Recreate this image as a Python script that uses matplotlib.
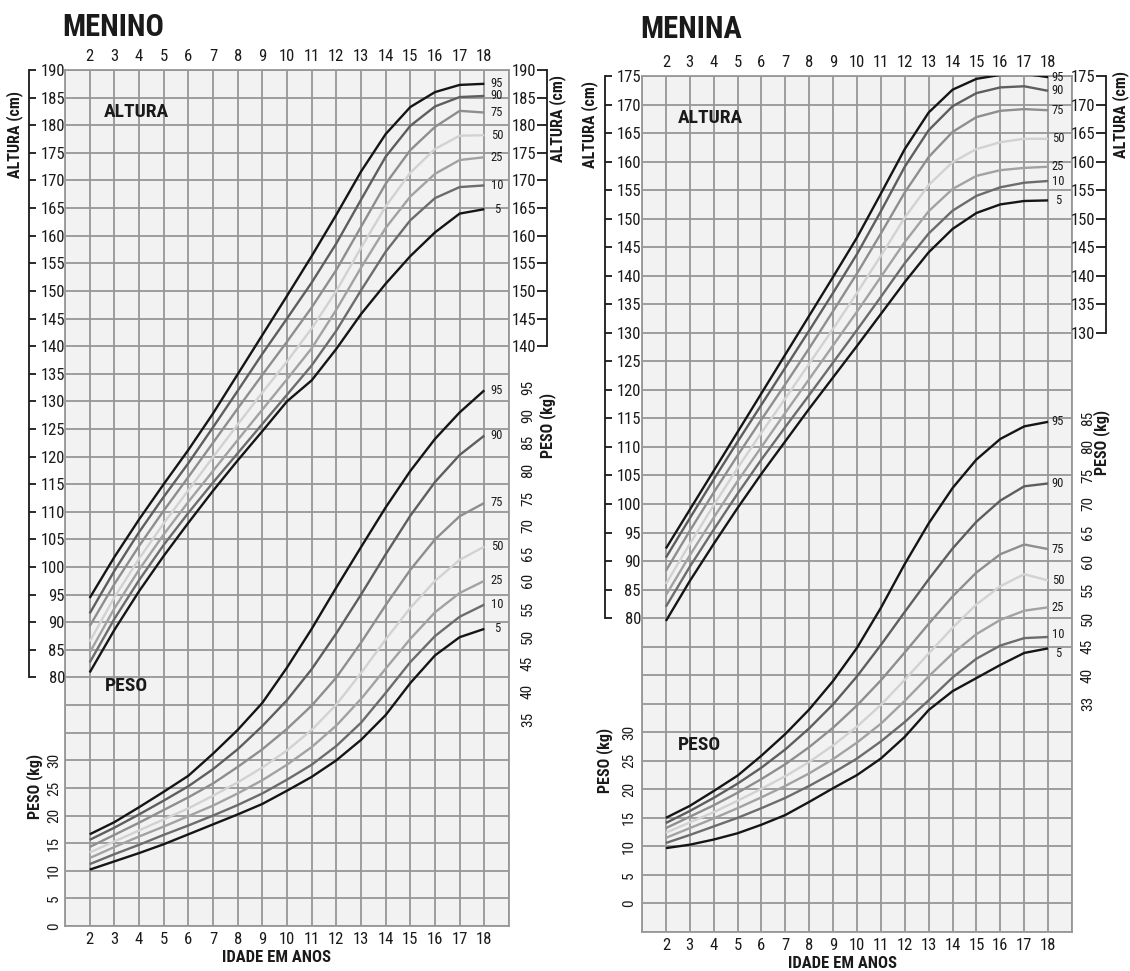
import numpy as np
import matplotlib
matplotlib.use('Agg')
import matplotlib.pyplot as plt

plt.rcParams['font.family'] = ['Roboto Condensed', 'Liberation Sans Narrow', 'Liberation Sans', 'DejaVu Sans']

# ---------------- data ----------------
ages = [2, 3, 4, 5, 6, 7, 8, 9, 10, 11, 12, 13, 14, 15, 16, 17, 18]
percentiles = ['95', '90', '75', '50', '25', '10', '5']

# MENINO - altura (cm)
boys_height_p95 = [94.4, 101.8, 108.6, 115.0, 121.2, 127.8, 134.9, 142.0, 149.1, 156.3, 163.8, 171.6, 178.4, 183.3, 186.0, 187.3, 187.5]
boys_height_p90 = [91.6, 99.3, 106.3, 112.7, 118.8, 125.3, 131.9, 138.6, 145.0, 151.5, 158.6, 166.5, 174.3, 179.9, 183.4, 185.1, 185.3]
boys_height_p75 = [89.3, 96.9, 103.8, 110.2, 116.3, 122.5, 128.7, 134.8, 140.8, 147.0, 153.8, 161.6, 169.4, 175.5, 179.7, 182.6, 182.3]
boys_height_p50 = [86.5, 94.5, 101.5, 107.9, 113.9, 119.9, 125.8, 131.6, 137.2, 143.2, 150.0, 157.8, 165.3, 171.4, 175.7, 178.1, 178.2]
boys_height_p25 = [84.5, 92.5, 99.5, 105.9, 111.8, 117.4, 123.0, 128.5, 134.0, 139.6, 146.6, 154.2, 161.4, 167.1, 171.2, 173.7, 174.2]
boys_height_p10 = [82.7, 90.6, 97.6, 104.0, 109.8, 115.3, 120.6, 125.9, 131.2, 136.5, 142.8, 150.1, 157.1, 162.8, 166.8, 168.8, 169.1]
boys_height_p5 = [80.9, 88.6, 95.6, 102.0, 108.0, 113.8, 119.3, 124.6, 130.0, 133.8, 139.5, 145.8, 151.3, 156.3, 160.6, 164.0, 164.8]

# MENINO - peso (kg)
boys_weight_p95 = [16.6, 18.8, 21.5, 24.3, 27.2, 31.2, 35.5, 40.4, 46.8, 53.8, 61.3, 68.6, 75.8, 82.4, 88.2, 93.0, 97.0]
boys_weight_p90 = [15.6, 17.8, 20.2, 22.7, 25.3, 28.4, 32.0, 36.2, 40.9, 46.5, 53.0, 60.0, 67.3, 74.3, 80.4, 85.3, 88.8]
boys_weight_p75 = [14.3, 16.5, 18.7, 21.0, 23.3, 25.8, 28.8, 32.0, 35.7, 39.9, 45.0, 51.3, 58.1, 64.5, 70.0, 74.2, 76.6]
boys_weight_p50 = [13.3, 15.3, 17.3, 19.3, 21.3, 23.6, 26.0, 28.7, 31.8, 35.5, 40.1, 45.8, 51.9, 57.6, 62.5, 66.3, 68.7]
boys_weight_p25 = [12.3, 14.3, 16.2, 18.0, 19.9, 21.8, 24.0, 26.4, 29.2, 32.4, 36.3, 41.1, 46.6, 52.0, 56.8, 60.3, 62.5]
boys_weight_p10 = [11.2, 13.0, 14.7, 16.5, 18.2, 20.0, 21.9, 24.0, 26.5, 29.2, 32.6, 36.8, 42.2, 47.8, 52.5, 56.0, 58.2]
boys_weight_p5 = [10.2, 11.7, 13.2, 14.8, 16.6, 18.4, 20.2, 22.1, 24.5, 27.0, 30.0, 33.7, 38.2, 44.0, 49.0, 52.3, 53.8]

# MENINA - altura (cm)
girls_height_p95 = [92.2, 99.0, 105.8, 112.6, 119.4, 126.2, 133.0, 139.8, 146.7, 154.4, 162.2, 168.6, 172.6, 174.5, 175.2, 175.4, 174.8]
girls_height_p90 = [90.6, 97.5, 104.3, 110.9, 117.4, 123.9, 130.4, 137.0, 143.8, 151.3, 159.1, 165.5, 169.7, 172.0, 173.0, 173.2, 172.4]
girls_height_p75 = [88.3, 95.3, 102.0, 108.5, 114.8, 121.0, 127.3, 133.8, 140.4, 147.4, 154.6, 160.8, 165.2, 167.8, 168.9, 169.2, 169.0]
girls_height_p50 = [86.0, 93.0, 99.8, 106.3, 112.5, 118.5, 124.6, 130.7, 137.0, 143.5, 150.2, 155.9, 159.9, 162.2, 163.4, 164.0, 164.0]
girls_height_p25 = [84.0, 91.0, 97.6, 104.0, 110.0, 116.0, 121.9, 127.8, 133.7, 139.8, 145.9, 151.3, 155.2, 157.5, 158.5, 158.9, 159.1]
girls_height_p10 = [82.0, 89.0, 95.5, 101.8, 107.8, 113.5, 119.1, 124.8, 130.5, 136.3, 142.2, 147.4, 151.4, 154.0, 155.5, 156.3, 156.6]
girls_height_p5 = [79.5, 86.5, 93.0, 99.3, 105.3, 111.0, 116.7, 122.2, 127.7, 133.3, 138.9, 144.1, 148.2, 151.0, 152.5, 153.1, 153.2]

# MENINA - peso (kg)
girls_weight_p95 = [15.0, 17.1, 19.7, 22.4, 25.9, 29.7, 34.0, 39.0, 44.8, 51.8, 59.5, 66.6, 72.8, 77.8, 81.4, 83.6, 84.4]
girls_weight_p90 = [14.1, 16.2, 18.5, 21.0, 23.8, 27.0, 30.7, 34.9, 39.8, 45.3, 51.1, 56.8, 62.2, 66.9, 70.6, 73.1, 73.6]
girls_weight_p75 = [13.2, 15.2, 17.2, 19.4, 21.8, 24.4, 27.4, 30.8, 34.7, 39.1, 44.0, 49.0, 53.8, 58.0, 61.2, 62.9, 62.1]
girls_weight_p50 = [12.4, 14.2, 16.0, 18.0, 20.1, 22.3, 24.8, 27.7, 31.0, 34.8, 39.2, 43.8, 48.3, 52.4, 55.6, 57.7, 56.6]
girls_weight_p25 = [11.5, 13.2, 14.9, 16.7, 18.6, 20.6, 22.8, 25.3, 28.2, 31.5, 35.5, 39.8, 43.8, 47.2, 49.7, 51.3, 51.9]
girls_weight_p10 = [10.6, 12.0, 13.5, 15.0, 16.7, 18.5, 20.6, 22.9, 25.4, 28.4, 31.8, 35.6, 39.6, 42.9, 45.2, 46.5, 46.7]
girls_weight_p5 = [9.7, 10.3, 11.2, 12.3, 13.8, 15.5, 17.8, 20.2, 22.5, 25.4, 29.2, 33.9, 37.2, 39.5, 41.8, 43.9, 44.7]

# tick labels
age_labels = [str(a) for a in ages]
boys_height_left_ticks = list(range(80, 191, 5))
boys_height_right_ticks = list(range(140, 191, 5))
girls_height_left_ticks = list(range(80, 176, 5))
girls_height_right_ticks = list(range(130, 176, 5))
weight_left_ticks = [0, 5, 10, 15, 20, 25, 30]
boys_weight_right_ticks = [35, 40, 45, 50, 55, 60, 65, 70, 75, 80, 85, 90, 95]
girls_weight_right_ticks = [35, 40, 45, 50, 55, 60, 65, 70, 75, 80, 85]
girls_weight_right_labels = ['33', '40', '45', '50', '55', '60', '65', '70', '75', '80', '85']

# ---------------- style ----------------
line_colors = ['#151515', '#5e5e5e', '#8e8e8e', '#d2d2d2', '#a2a2a2', '#6c6c6c', '#151515']
GRID = '#979797'
BG = '#f2f2f2'
INK = '#1a1a1a'

W, H = 1130, 971
fig = plt.figure(figsize=(W / 100, H / 100), dpi=100)


def fx(px):
    return px / W


def fy(py):
    return 1 - py / H


def ftext(px, py, s, **kw):
    fig.text(fx(px), fy(py), s, color=INK, **kw)


def panel(cfg, heights, weights):
    l, t, r, b = cfg['box']
    ax = fig.add_axes([fx(l), fy(b), fx(r) - fx(l), fy(t) - fy(b)])
    ylo, yhi = cfg['ylim']
    off = cfg['woff']
    ax.set_facecolor(BG)
    ax.set_xlim(1, 19)
    ax.set_ylim(ylo, yhi)
    ax.set_xticks(range(1, 20))
    ax.set_xticklabels([''] + age_labels + [''])
    ax.tick_params(axis='x', length=0, top=True, labeltop=True, bottom=True,
                   labelbottom=True, labelsize=12, colors=INK, pad=cfg['xpad'])
    ax.set_yticks(np.arange(ylo, yhi + 0.1, 5))
    ax.tick_params(axis='y', length=0, left=False, labelleft=False)
    ax.grid(True, color=GRID, lw=1.3)
    ax.set_axisbelow(True)
    for s in ax.spines.values():
        s.set_color(GRID)
        s.set_linewidth(1.3)

    width = r - l
    # left height scale (labels between spine and grid)
    hl = ax.twinx()
    hl.set_ylim(ylo, yhi)
    for k in ['left', 'top', 'bottom']:
        hl.spines[k].set_visible(False)
    hl.spines['right'].set_position(('axes', (cfg['hl_spine'] - l) / width))
    hl.spines['right'].set_bounds(cfg['hl_ticks'][0], cfg['hl_ticks'][-1])
    hl.spines['right'].set_linewidth(1.3)
    hl.spines['right'].set_color(INK)
    hl.yaxis.set_ticks_position('right')
    hl.set_yticks(cfg['hl_ticks'], [str(v) for v in cfg['hl_ticks']], ha='right')
    hl.tick_params(axis='y', direction='out', length=5, width=1.3, colors=INK,
                   labelsize=12, pad=(cfg['hl_lab'] - cfg['hl_spine'] - 5) * 0.72)

    # right height scale
    hr = ax.twinx()
    hr.set_ylim(ylo, yhi)
    for k in ['right', 'top', 'bottom']:
        hr.spines[k].set_visible(False)
    hr.spines['left'].set_visible(True)
    hr.spines['left'].set_position(('axes', (cfg['hr_spine'] - l) / width))
    hr.spines['left'].set_bounds(cfg['hr_ticks'][0], cfg['hr_ticks'][-1])
    hr.spines['left'].set_linewidth(1.3)
    hr.spines['left'].set_color(INK)
    hr.yaxis.set_ticks_position('left')
    hr.set_yticks(cfg['hr_ticks'])
    hr.tick_params(axis='y', direction='out', length=7, width=1.3, colors=INK,
                   labelsize=12, pad=1)

    # weight scale: left labels, curves drawn here
    wl = ax.twinx()
    wl.set_ylim(ylo - off, yhi - off)
    for s in wl.spines.values():
        s.set_visible(False)
    wl.yaxis.set_ticks_position('left')
    wl.set_yticks(weight_left_ticks, [str(v) for v in weight_left_ticks],
                  rotation=90, va='center')
    wl.tick_params(axis='y', length=0, colors=INK, labelsize=11,
                   pad=(l - cfg['wl_lab'] - 6) * 0.72)

    # weight scale: right labels
    wr = ax.twinx()
    sh = cfg['wr_shift']
    wr.set_ylim(ylo - off - sh, yhi - off - sh)
    for s in wr.spines.values():
        s.set_visible(False)
    wr.yaxis.set_ticks_position('right')
    wr.set_yticks(cfg['wr_ticks'], cfg['wr_labels'], rotation=90, va='center')
    wr.tick_params(axis='y', length=0, colors=INK, labelsize=11,
                   pad=(cfg['wr_lab'] - r - 6) * 0.72)

    # curves
    for name, hv, wv, c in zip(percentiles, heights, weights, line_colors):
        ax.plot(ages, hv, color=c, lw=1.7, solid_capstyle='butt', zorder=3)
        wl.plot(ages, wv, color=c, lw=1.7, solid_capstyle='butt', zorder=3)
    # percentile labels at curve ends
    xlab = 18 + (cfg['plab'] - (l + (r - l) * 17 / 18)) / ((r - l) / 18)
    for name, hv, dy in zip(percentiles, heights, cfg['h_nudge']):
        ax.text(xlab, hv[-1] + dy, name, fontsize=9, ha='center', va='center', color=INK)
    for name, wv, dy in zip(percentiles, weights, cfg['w_nudge']):
        wl.text(xlab, wv[-1] + dy, name, fontsize=9, ha='center', va='center', color=INK)

    # texts
    ftext(*cfg['title'], cfg['title_s'], fontsize=22, fontweight='bold', ha='left', va='center')
    ftext(*cfg['altura'], 'ALTURA', fontsize=14, fontweight='bold', ha='left', va='center')
    ftext(*cfg['peso'], 'PESO', fontsize=14, fontweight='bold', ha='left', va='center')
    ftext(*cfg['idade'], 'IDADE EM ANOS', fontsize=12, fontweight='bold', ha='center', va='center')
    ftext(*cfg['alt_l'], 'ALTURA (cm)', fontsize=11.5, fontweight='bold', rotation=90, ha='center', va='center')
    ftext(*cfg['alt_r'], 'ALTURA (cm)', fontsize=11.5, fontweight='bold', rotation=90, ha='center', va='center')
    ftext(*cfg['peso_l'], 'PESO (kg)', fontsize=11.5, fontweight='bold', rotation=90, ha='center', va='center')
    ftext(*cfg['peso_r'], 'PESO (kg)', fontsize=11.5, fontweight='bold', rotation=90, ha='center', va='center')
    return ax


boys_cfg = dict(
    box=(65, 70, 509, 926), ylim=(35, 190), woff=35, xpad=4,
    hl_spine=29, hl_lab=63, hl_ticks=boys_height_left_ticks,
    hr_spine=547, hr_ticks=boys_height_right_ticks,
    wl_lab=55, wr_lab=527, wr_shift=2.5,
    wr_ticks=boys_weight_right_ticks, wr_labels=[str(v) for v in boys_weight_right_ticks],
    plab=497,
    h_nudge=[0, 0, 0, 0, 0, 0, 0], w_nudge=[0, 0, 0, 0, 0, 0, 0],
    title=(62, 27), title_s='MENINO',
    altura=(104, 112), peso=(105, 686), idade=(276, 957),
    alt_l=(15, 135), peso_l=(35, 786), alt_r=(558, 118), peso_r=(548, 425),
)

girls_cfg = dict(
    box=(642, 76, 1072, 932), ylim=(25, 175), woff=30, xpad=4,
    hl_spine=605, hl_lab=639, hl_ticks=girls_height_left_ticks,
    hr_spine=1106, hr_ticks=girls_height_right_ticks,
    wl_lab=630, wr_lab=1087, wr_shift=0,
    wr_ticks=girls_weight_right_ticks, wr_labels=girls_weight_right_labels,
    plab=1058,
    h_nudge=[0, 0, 0, 0, 0, 0, 0], w_nudge=[0, 0, 0, 0, 0, 0.5, -0.9],
    title=(640, 29), title_s='MENINA',
    altura=(678, 118), peso=(678, 745), idade=(842, 963),
    alt_l=(590, 125), peso_l=(605, 760), alt_r=(1121, 115), peso_r=(1102, 442),
)

panel(boys_cfg,
      [boys_height_p95, boys_height_p90, boys_height_p75, boys_height_p50,
       boys_height_p25, boys_height_p10, boys_height_p5],
      [boys_weight_p95, boys_weight_p90, boys_weight_p75, boys_weight_p50,
       boys_weight_p25, boys_weight_p10, boys_weight_p5])
panel(girls_cfg,
      [girls_height_p95, girls_height_p90, girls_height_p75, girls_height_p50,
       girls_height_p25, girls_height_p10, girls_height_p5],
      [girls_weight_p95, girls_weight_p90, girls_weight_p75, girls_weight_p50,
       girls_weight_p25, girls_weight_p10, girls_weight_p5])

fig.savefig('out.png', dpi=100, facecolor='white')
